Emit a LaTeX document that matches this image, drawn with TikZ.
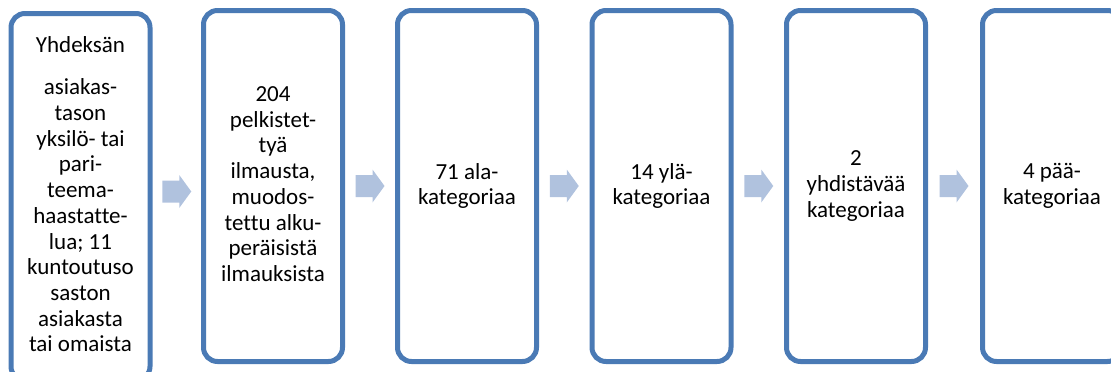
\documentclass[tikz,border=0pt]{standalone}
\usepackage{fontspec}
\setmainfont{Carlito}[Ligatures={NoCommon}]
\usetikzlibrary{calc}
\definecolor{boxblue}{HTML}{4A7AB5}
\definecolor{arrowblue}{HTML}{B0C2DE}
\begin{document}
\begin{tikzpicture}[x=1pt,y=-1pt,
  stagebox/.style={draw=boxblue, line width=5pt, rounded corners=14pt, fill=white,
    minimum width=139pt, minimum height=351pt, align=center, inner sep=0pt,
    font=\fontsize{23}{25.7}\selectfont},
  blockarrow/.pic={\fill[arrowblue] (-14.5,-11) -- (2.5,-11) -- (2.5,-16.5) -- (14.5,0)
    -- (2.5,16.5) -- (2.5,11) -- (-14.5,11) -- cycle;}]
\useasboundingbox (0,0) rectangle (1111,372);
\node[stagebox, minimum height=367pt, text depth=6pt] (b1) at (80.5,197) {Yhdeksän\\[17pt]asiakas-\\tason\\yksilö- tai\\pari-\\teema-\\haastatte-\\lua; 11\\kuntoutuso\\saston\\asiakasta\\tai omaista};
\node[stagebox, text depth=4pt] (b2) at (273,186) {204\\pelkistet-\\tyä\\ilmausta,\\muodos-\\tettu alku-\\peräisistä\\ilmauksista};
\node[stagebox] (b3) at (467,186) {71 ala-\\kategoriaa};
\node[stagebox] (b4) at (661.5,186) {14 ylä-\\kategoriaa};
\node[stagebox] (b5) at (856,186) {2\\yhdistävää\\kategoriaa};
\node[stagebox] (b6) at (1052,186) {4 pää-\\kategoriaa};
\pic at ($(b1.east)!0.5!(b2.west)$) {blockarrow};
\pic at ($(b2.east)!0.5!(b3.west)$) {blockarrow};
\pic at ($(b3.east)!0.5!(b4.west)$) {blockarrow};
\pic at ($(b4.east)!0.5!(b5.west)$) {blockarrow};
\pic at ($(b5.east)!0.5!(b6.west)$) {blockarrow};
\end{tikzpicture}
\end{document}
